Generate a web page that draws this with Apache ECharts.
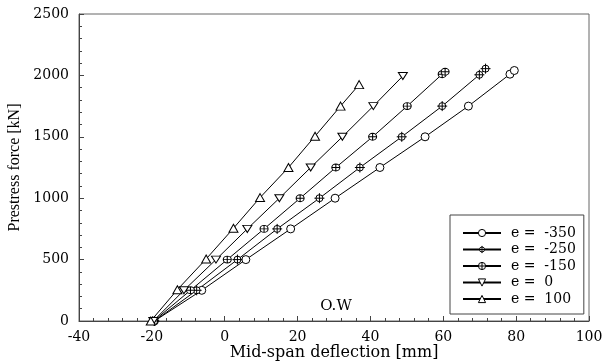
<!DOCTYPE html>
<html><head><meta charset="utf-8">
<script src="https://cdn.jsdelivr.net/npm/echarts@6/dist/echarts.min.js"></script>
<style>html,body{margin:0;padding:0;background:#fff}#c{width:604px;height:362px}</style>
</head><body><div id="c"></div>
<script>
// ---- data ----
const seriesNames = ['e =  -350', 'e =  -250', 'e =  -150', 'e =  0', 'e =  100'];

const deflM350  = [-19.3, -6.3, 5.8, 18.1, 30.3, 42.6, 55.0, 66.9, 78.3, 79.5];
const forceM350 = [0, 250, 500, 750, 1000, 1250, 1500, 1750, 2010, 2040];

const deflM250  = [-19.3, -7.7, 3.5, 14.4, 26.0, 37.1, 48.6, 59.7, 69.9, 71.6];
const forceM250 = [0, 250, 500, 750, 1000, 1250, 1500, 1750, 2005, 2055];

const deflM150  = [-19.5, -9.4, 0.7, 10.8, 20.7, 30.5, 40.6, 50.1, 59.7, 60.5];
const forceM150 = [0, 250, 500, 750, 1000, 1250, 1500, 1750, 2010, 2030];

const deflE0  = [-19.6, -11.2, -2.4, 6.2, 15.0, 23.6, 32.3, 40.8, 48.9];
const forceE0 = [0, 250, 500, 750, 1000, 1250, 1500, 1750, 1995];

const deflE100  = [-20.3, -13.0, -5.1, 2.4, 9.7, 17.5, 24.8, 31.8, 36.9];
const forceE100 = [0, 255, 505, 755, 1005, 1250, 1505, 1750, 1925];

const xTicks = { min: -40, max: 100, interval: 20 };
const yTicks = { min: 0, max: 2500, interval: 500 };

const annotation = 'O.W';
const xTitle = 'Mid-span deflection [mm]';
const yTitle = 'Prestress force [kN]';

// ---- symbols ----
const symCircle = 'circle';
const symCirclePlus = 'path://M0,-8A8,8 0 1,1 0,8A8,8 0 1,1 0,-8ZM-8,0L8,0M0,-8L0,8';
const symCircleCross = 'path://M0,-7A7,7 0 1,1 0,7A7,7 0 1,1 0,-7ZM-10,0L10,0M0,-10L0,10';
const symTriDown = 'path://M-10,-8L10,-8L0,8Z';
const symTriUp = 'triangle';

function pairs(xs, ys) { return xs.map((x, i) => [x, ys[i]]); }

const defs = [
  { name: seriesNames[0], data: pairs(deflM350, forceM350), symbol: symCircle, size: 8 },
  { name: seriesNames[1], data: pairs(deflM250, forceM250), symbol: symCircleCross, size: 10 },
  { name: seriesNames[2], data: pairs(deflM150, forceM150), symbol: symCirclePlus, size: [8, 7] },
  { name: seriesNames[3], data: pairs(deflE0, forceE0), symbol: symTriDown, size: [9, 7] },
  { name: seriesNames[4], data: pairs(deflE100, forceE100), symbol: symTriUp, size: [9, 8] }
];

const font = '"DejaVu Serif", "Liberation Serif", serif';
const markStyle = { color: '#fff', borderColor: '#000', borderWidth: 1 };

const chart = echarts.init(document.getElementById('c'), null, { renderer: 'canvas' });
chart.setOption({
  animation: false,
  backgroundColor: '#fff',
  grid: { left: 79, right: 15, top: 14, bottom: 41, outerBoundsMode: 'none', containLabel: false,
          show: true, borderColor: '#666', borderWidth: 1, backgroundColor: 'transparent' },
  xAxis: {
    type: 'value', min: xTicks.min, max: xTicks.max, interval: xTicks.interval,
    name: xTitle, nameLocation: 'middle', nameGap: 24, nameMoveOverlap: false,
    nameTextStyle: { fontFamily: font, fontSize: 16, color: '#000' },
    axisLine: { show: true, onZero: false, lineStyle: { color: '#444', width: 1 } },
    axisTick: { show: true, inside: true, length: 5, lineStyle: { color: '#444' } },
    minorTick: { show: true, splitNumber: 5, length: 3, lineStyle: { color: '#444' } },
    axisLabel: { fontFamily: font, fontSize: 14, color: '#000', margin: 9, formatter: v => String(v) },
    splitLine: { show: false }
  },
  yAxis: {
    type: 'value', min: yTicks.min, max: yTicks.max, interval: yTicks.interval,
    name: yTitle, nameLocation: 'middle', nameGap: 48,
    nameTextStyle: { fontFamily: '"Liberation Serif", serif', fontSize: 16, color: '#000' },
    axisLine: { show: true, onZero: false, lineStyle: { color: '#444', width: 1 } },
    axisTick: { show: true, inside: true, length: 5, lineStyle: { color: '#444' } },
    minorTick: { show: true, splitNumber: 5, length: 3, lineStyle: { color: '#444' } },
    axisLabel: { fontFamily: font, fontSize: 14, color: '#000', margin: 10, formatter: v => String(v) },
    splitLine: { show: false }
  },
  legend: {
    orient: 'vertical', left: 450, top: 215,
    padding: [11, 8, 8, 12],
    backgroundColor: '#fff', borderColor: '#444', borderWidth: 1, borderRadius: 0,
    itemWidth: 38, itemHeight: 9, itemGap: 2.5,
    textStyle: { fontFamily: font, fontSize: 14, lineHeight: 14, color: '#000', padding: [0, 0, 0, 5] },
    data: seriesNames.map(n => ({ name: n, itemStyle: markStyle }))
  },
  graphic: [{
    type: 'text', x: 336, y: 306,
    style: { text: annotation, font: '15px ' + font, fill: '#000', align: 'center', verticalAlign: 'middle' }
  }],
  series: defs.map(d => ({
    type: 'line', name: d.name, data: d.data,
    symbol: d.symbol, symbolSize: d.size, showAllSymbol: true,
    lineStyle: { color: '#000', width: 1 },
    itemStyle: markStyle,
    emphasis: { disabled: true }, silent: true, z: 3
  }))
});
</script>
</body></html>
